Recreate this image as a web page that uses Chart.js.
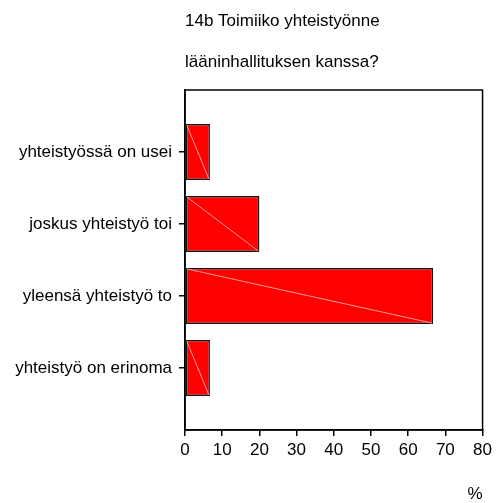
<!DOCTYPE html>
<html>
<head>
<meta charset="utf-8">
<script src="https://cdn.jsdelivr.net/npm/chart.js@4/dist/chart.umd.min.js"></script>
<style>
  body { margin: 0; background: #fff; }
  canvas { display: block; }
</style>
</head>
<body>
<canvas id="barChart" width="496" height="503"></canvas>
<script>
const titleLines = ['14b Toimiiko yhteistyönne', 'lääninhallituksen kanssa?'];
const categories = ['yhteistyössä on usei', 'joskus yhteistyö toi', 'yleensä yhteistyö to', 'yhteistyö on erinoma'];
const percents = [6.7, 20.0, 66.7, 6.7];
const xMin = 0;
const xMax = 80;
const xStep = 10;
const xLabel = '%';

Chart.defaults.font.family = 'Arial, "Liberation Sans", sans-serif';
Chart.defaults.font.size = 17;
Chart.defaults.color = '#000';

// box round the plot area
const framePlugin = {
    id: 'frame',
    afterDraw(chart) {
        const a = chart.chartArea;
        const ctx = chart.ctx;
        ctx.save();
        ctx.strokeStyle = '#000';
        ctx.lineWidth = 1.5;
        ctx.strokeRect(a.left, a.top, a.right - a.left, a.bottom - a.top);
        ctx.restore();
    }
};

// the faint diagonal inside each bar
const diagonalPlugin = {
    id: 'diagonal',
    afterDatasetsDraw(chart) {
        const ctx = chart.ctx;
        ctx.save();
        ctx.strokeStyle = 'rgba(255,170,170,0.9)';
        ctx.lineWidth = 1;
        chart.getDatasetMeta(0).data.forEach(bar => {
            const h = bar.height / 2;
            ctx.beginPath();
            ctx.moveTo(bar.base + 1, bar.y - h + 1);
            ctx.lineTo(bar.x - 1, bar.y + h - 1);
            ctx.stroke();
        });
        ctx.restore();
    }
};

// two line heading, left aligned with the plot
const headingPlugin = {
    id: 'heading',
    afterDraw(chart) {
        const ctx = chart.ctx;
        ctx.save();
        ctx.fillStyle = '#000';
        ctx.font = '17px Arial, "Liberation Sans", sans-serif';
        ctx.textAlign = 'left';
        ctx.textBaseline = 'middle';
        ctx.fillText(titleLines[0], chart.chartArea.left, 21);
        ctx.fillText(titleLines[1], chart.chartArea.left, 62);
        ctx.restore();
    }
};

new Chart('barChart', {
    type: 'bar',
    data: {
        datasets: [{
            data: percents.map((v, i) => ({ x: v, y: i })),
            backgroundColor: '#ff0000',
            borderColor: '#111',
            borderWidth: 1.5,
            borderSkipped: false,
            barPercentage: 0.78,
            categoryPercentage: 1
        }]
    },
    options: {
        indexAxis: 'y',
        responsive: false,
        animation: false,
        layout: { padding: { top: 90, right: 12, left: 0, bottom: 0 } },
        plugins: {
            legend: { display: false },
            tooltip: { enabled: false }
        },
        scales: {
            x: {
                type: 'linear',
                min: xMin,
                max: xMax,
                ticks: { stepSize: xStep, padding: 4 },
                grid: { drawOnChartArea: false, tickLength: 6, color: '#000', lineWidth: 1.5 },
                border: { color: '#000', width: 1.5 },
                title: { display: true, text: xLabel, align: 'end', padding: { top: 0, bottom: 0 }, font: { lineHeight: 1 } },
                afterFit(scale) { scale.height = 73; }
            },
            y: {
                type: 'linear',
                reverse: true,
                offset: false,
                min: -0.861,
                max: categories.length - 1 + 0.861,
                ticks: {
                    stepSize: 1,
                    includeBounds: false,
                    padding: 7,
                    callback: v => categories[v] ?? ''
                },
                grid: { drawOnChartArea: false, offset: false, tickLength: 6, color: '#000', lineWidth: 1.5 },
                border: { color: '#000', width: 1.5 },
                afterFit(scale) { scale.width = 185; }
            }
        }
    },
    plugins: [framePlugin, diagonalPlugin, headingPlugin]
});
</script>
</body>
</html>
